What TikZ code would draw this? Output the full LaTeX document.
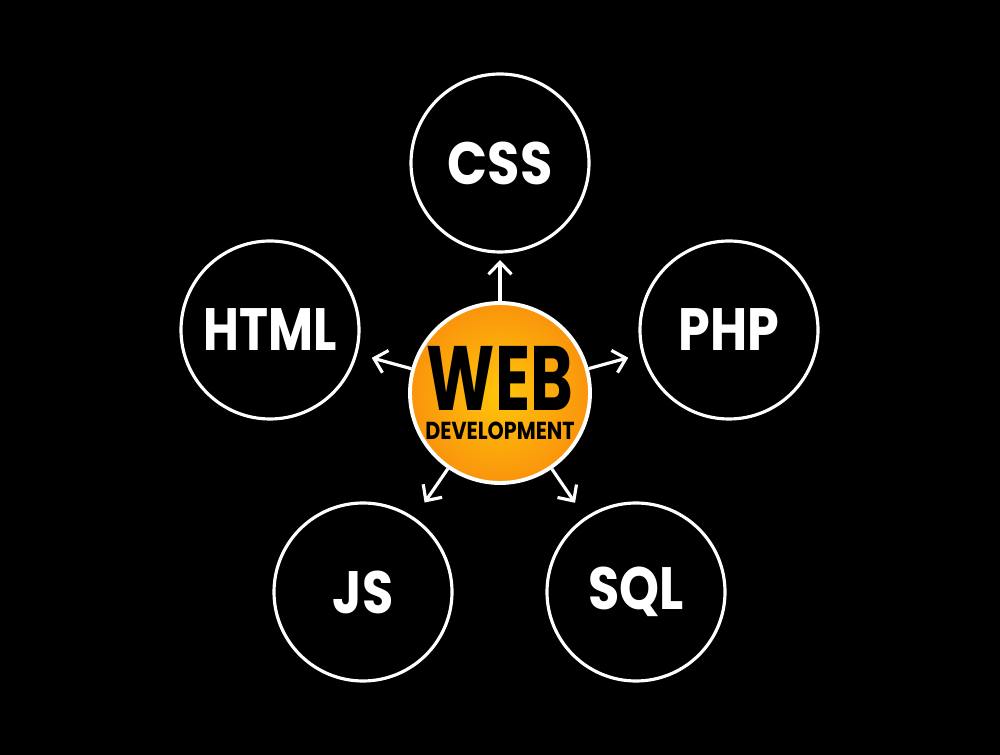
\documentclass[tikz,border=0pt]{standalone}
\usepackage{fontspec}
\setmainfont{Poppins}
\usepackage{graphicx}
\usetikzlibrary{shapes, shapes.misc}
\usetikzlibrary{arrows, arrows.meta}
\usetikzlibrary{calc}
\definecolor{webyellow}{RGB}{255,198,10}
\definecolor{weborange}{RGB}{250,148,12}

\begin{document}
\begin{tikzpicture}[x=0.2mm, y=-0.2mm]
        \fill[black] (0,0) rectangle (1000,755);
        \tikzset{topic/.style={circle, draw=white, line width=1.8pt, minimum size=3.56cm,
          inner sep=0pt, text=white, font=\fontsize{34}{34}\selectfont\bfseries}}
        \tikzset{spoke/.style={draw=white, line width=1.8pt,
          >={Straight Barb[length=2.4mm, width=4.6mm]}, ->}}
        % middle
        \node[circle, draw=white, line width=2.2pt, minimum size=3.6cm, inner sep=0pt,
          inner color=webyellow, outer color=weborange, align=center] (web) at (500,393)
        {\scalebox{0.71}[1]{\fontsize{52}{52}\selectfont\bfseries WEB}\\[4.5pt]
         \scalebox{0.84}[1]{\fontsize{14}{14}\selectfont\bfseries DEVELOPMENT}};
        % languages
        \node[topic] (css) at (500,163) {\scalebox{0.88}[1]{CSS}};
        \node[topic] (html) at (270,330) {\scalebox{0.82}[1]{HTML}};
        \node[topic] (php) at (729,330) {\scalebox{0.85}[1]{PHP}};
        \node[topic] (js) at (363,592) {\scalebox{0.85}[1]{JS}};
        \node[topic] (sql) at (636,592) {\scalebox{0.85}[1]{SQL}};
        \foreach \lang in {css, html, php, js, sql}
          \draw[spoke] (web) -- ($(web)!2.66cm!(\lang)$);
\end{tikzpicture}
\end{document}
